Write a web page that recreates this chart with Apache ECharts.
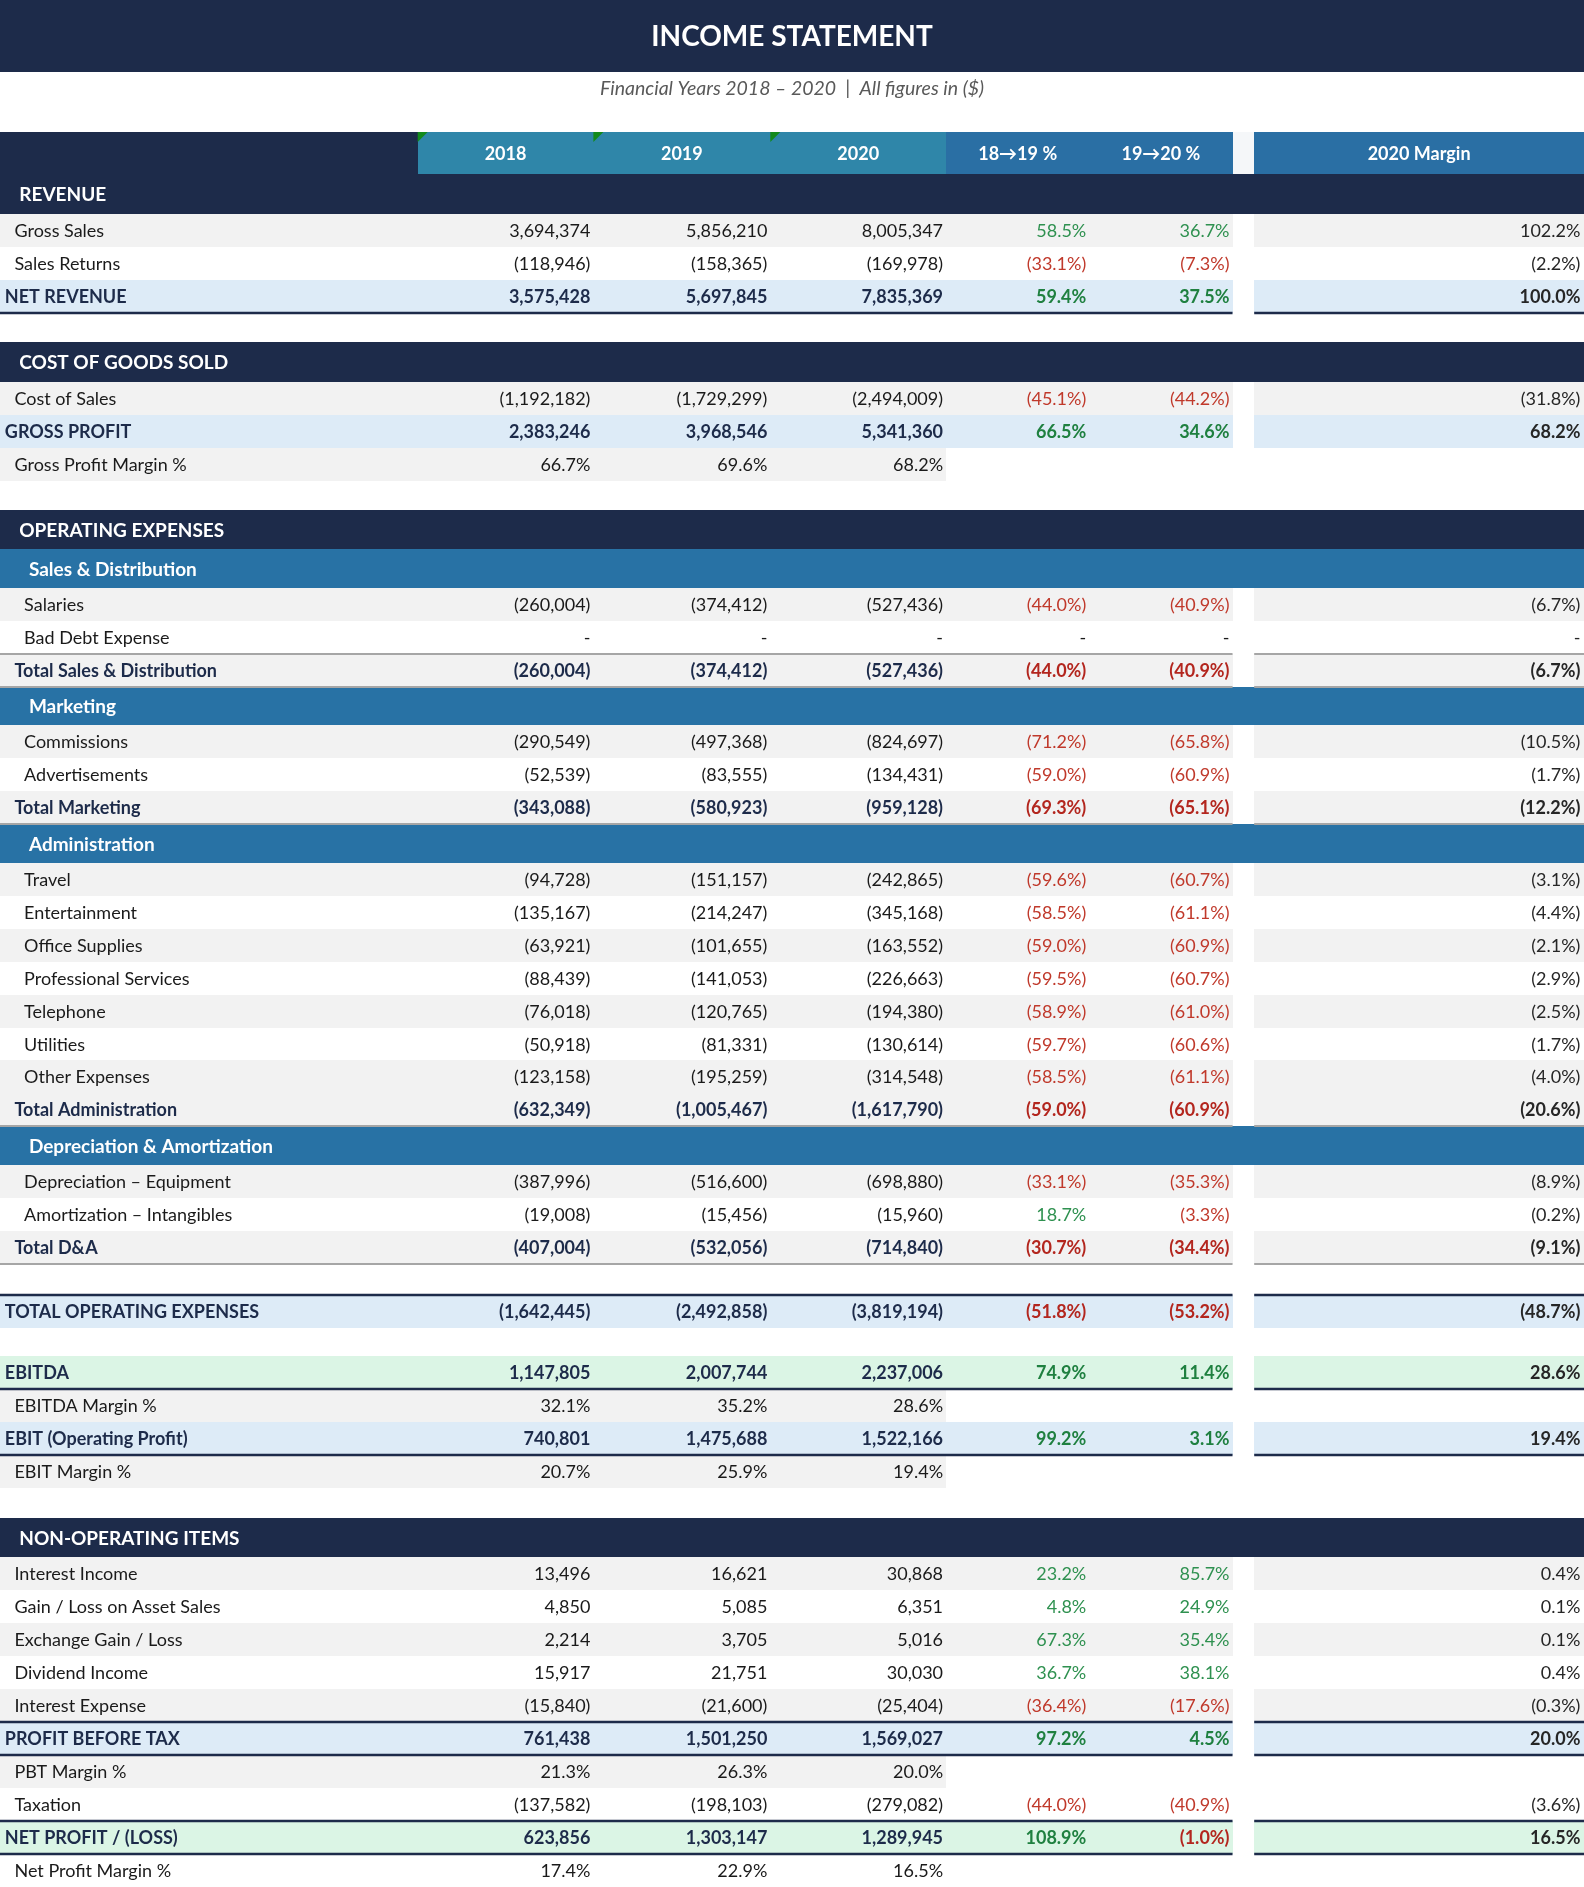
<!DOCTYPE html>
<html>
<head>
<meta charset="utf-8">
<title>Income Statement</title>
<script src="https://cdn.jsdelivr.net/npm/echarts@6/dist/echarts.min.js"></script>
<style>
  html, body { margin: 0; padding: 0; background: #ffffff; }
  #chart { width: 1584px; height: 1887px; }
</style>
</head>
<body>
<div id="chart"></div>
<script>
// ---- data ----
var titleText = 'INCOME STATEMENT';
var subtitleText = 'Financial Years 2018 \u2013 2020  |  All figures in ($)';
var columnTitles = ['2018', '2019', '2020', '18\u219219 %', '19\u219220 %', '2020 Margin'];

var rowLabels = [
  'REVENUE', 'Gross Sales', 'Sales Returns', 'NET REVENUE', '',
  'COST OF GOODS SOLD', 'Cost of Sales', 'GROSS PROFIT', 'Gross Profit Margin %', '',
  'OPERATING EXPENSES', 'Sales & Distribution', 'Salaries', 'Bad Debt Expense', 'Total Sales & Distribution',
  'Marketing', 'Commissions', 'Advertisements', 'Total Marketing',
  'Administration', 'Travel', 'Entertainment', 'Office Supplies', 'Professional Services',
  'Telephone', 'Utilities', 'Other Expenses', 'Total Administration',
  'Depreciation & Amortization', 'Depreciation \u2013 Equipment', 'Amortization \u2013 Intangibles', 'Total D&A', '',
  'TOTAL OPERATING EXPENSES', '',
  'EBITDA', 'EBITDA Margin %', 'EBIT (Operating Profit)', 'EBIT Margin %', '',
  'NON-OPERATING ITEMS', 'Interest Income', 'Gain / Loss on Asset Sales', 'Exchange Gain / Loss',
  'Dividend Income', 'Interest Expense', 'PROFIT BEFORE TAX', 'PBT Margin %', 'Taxation',
  'NET PROFIT / (LOSS)', 'Net Profit Margin %'
];

var v2018 = [
  null, 3694374, -118946, 3575428, null,
  null, -1192182, 2383246, 66.7, null,
  null, null, -260004, 0, -260004,
  null, -290549, -52539, -343088,
  null, -94728, -135167, -63921, -88439,
  -76018, -50918, -123158, -632349,
  null, -387996, -19008, -407004, null,
  -1642445, null,
  1147805, 32.1, 740801, 20.7, null,
  null, 13496, 4850, 2214,
  15917, -15840, 761438, 21.3, -137582,
  623856, 17.4
];
var v2019 = [
  null, 5856210, -158365, 5697845, null,
  null, -1729299, 3968546, 69.6, null,
  null, null, -374412, 0, -374412,
  null, -497368, -83555, -580923,
  null, -151157, -214247, -101655, -141053,
  -120765, -81331, -195259, -1005467,
  null, -516600, -15456, -532056, null,
  -2492858, null,
  2007744, 35.2, 1475688, 25.9, null,
  null, 16621, 5085, 3705,
  21751, -21600, 1501250, 26.3, -198103,
  1303147, 22.9
];
var v2020 = [
  null, 8005347, -169978, 7835369, null,
  null, -2494009, 5341360, 68.2, null,
  null, null, -527436, 0, -527436,
  null, -824697, -134431, -959128,
  null, -242865, -345168, -163552, -226663,
  -194380, -130614, -314548, -1617790,
  null, -698880, -15960, -714840, null,
  -3819194, null,
  2237006, 28.6, 1522166, 19.4, null,
  null, 30868, 6351, 5016,
  30030, -25404, 1569027, 20.0, -279082,
  1289945, 16.5
];
var chg1819 = [
  null, 58.5, -33.1, 59.4, null,
  null, -45.1, 66.5, null, null,
  null, null, -44.0, 0, -44.0,
  null, -71.2, -59.0, -69.3,
  null, -59.6, -58.5, -59.0, -59.5,
  -58.9, -59.7, -58.5, -59.0,
  null, -33.1, 18.7, -30.7, null,
  -51.8, null,
  74.9, null, 99.2, null, null,
  null, 23.2, 4.8, 67.3,
  36.7, -36.4, 97.2, null, -44.0,
  108.9, null
];
var chg1920 = [
  null, 36.7, -7.3, 37.5, null,
  null, -44.2, 34.6, null, null,
  null, null, -40.9, 0, -40.9,
  null, -65.8, -60.9, -65.1,
  null, -60.7, -61.1, -60.9, -60.7,
  -61.0, -60.6, -61.1, -60.9,
  null, -35.3, -3.3, -34.4, null,
  -53.2, null,
  11.4, null, 3.1, null, null,
  null, 85.7, 24.9, 35.4,
  38.1, -17.6, 4.5, null, -40.9,
  -1.0, null
];
var margin2020 = [
  null, 102.2, -2.2, 100.0, null,
  null, -31.8, 68.2, null, null,
  null, null, -6.7, 0, -6.7,
  null, -10.5, -1.7, -12.2,
  null, -3.1, -4.4, -2.1, -2.9,
  -2.5, -1.7, -4.0, -20.6,
  null, -8.9, -0.2, -9.1, null,
  -48.7, null,
  28.6, null, 19.4, null, null,
  null, 0.4, 0.1, 0.1,
  0.4, -0.3, 20.0, null, -3.6,
  16.5, null
];

// ---- layout (sheet units, the sheet is 1316 x 1568) ----
// k: row kind, f: fill (g grey, w white, b blue, n green), ln: navy/grey rules, ind: label indent, h: gap height
var rowStyle = [
  {k: 'section'}, {k: 'item', f: 'g', ind: 12}, {k: 'item', f: 'w', ind: 12}, {k: 'key', f: 'b', ln: 'b'}, {k: 'gap', h: 24},
  {k: 'section'}, {k: 'item', f: 'g', ind: 12}, {k: 'key', f: 'b'}, {k: 'ratio', f: 'g'}, {k: 'gap', h: 24},
  {k: 'section'}, {k: 'sub'}, {k: 'item', f: 'g', ind: 20}, {k: 'item', f: 'w', ind: 20}, {k: 'total', ln: 'tb'},
  {k: 'sub'}, {k: 'item', f: 'g', ind: 20}, {k: 'item', f: 'w', ind: 20}, {k: 'total', ln: 'b'},
  {k: 'sub'}, {k: 'item', f: 'g', ind: 20}, {k: 'item', f: 'w', ind: 20}, {k: 'item', f: 'g', ind: 20}, {k: 'item', f: 'w', ind: 20},
  {k: 'item', f: 'g', ind: 20}, {k: 'item', f: 'w', ind: 20}, {k: 'item', f: 'g', ind: 20}, {k: 'total', ln: 'b'},
  {k: 'sub'}, {k: 'item', f: 'g', ind: 20}, {k: 'item', f: 'w', ind: 20}, {k: 'total', ln: 'b'}, {k: 'gap', h: 25.5},
  {k: 'key', f: 'b', ln: 't'}, {k: 'gap', h: 24},
  {k: 'key', f: 'n', ln: 'b'}, {k: 'ratio', f: 'g'}, {k: 'key', f: 'b', ln: 'b'}, {k: 'ratio', f: 'g'}, {k: 'gap', h: 24.5},
  {k: 'section'}, {k: 'item', f: 'g', ind: 12}, {k: 'item', f: 'w', ind: 12}, {k: 'item', f: 'g', ind: 12},
  {k: 'item', f: 'w', ind: 12}, {k: 'item', f: 'g', ind: 12}, {k: 'key', f: 'b', ln: 'tb'}, {k: 'ratio', f: 'g'}, {k: 'item', f: 'w', ind: 12},
  {k: 'key', f: 'n', ln: 'tb'}, {k: 'ratio', f: 'w'}
];

var SHEET_W = 1316;
var SHEET_H = 1568;
var colEdges = [0, 347, 493, 640, 786, 905, 1024, 1042, 1316];
var valueRight = [493, 640, 786, 905, 1024, 1316];
var heights = {title: 60, subtitle: 26, space: 24, head: 35, section: 33, sub: 32, item: 27.4, key: 27.4, total: 27.4, ratio: 27.4};

var FONT = 'Lato, "Open Sans", "DejaVu Sans", sans-serif';
var NAVY = '#1d2b4a';
var SUB_BLUE = '#2872a5';
var HEAD_TEAL = '#2f86a9';
var HEAD_BLUE = '#2a6fa4';
var FILLS = {g: '#f2f2f2', w: null, b: '#ddebf7', n: '#dbf5e5'};
var GREEN = '#2f9150', RED = '#c0392b', INK = '#1a1a1a';

// all rows: title block + table rows, with y extents stacked from the heights
var rows = [{k: 'title'}, {k: 'subtitle'}, {k: 'space'}, {k: 'head'}];
rowStyle.forEach(function (s, i) {
  rows.push({k: s.k, f: s.f, ln: s.ln || '', ind: s.ind, h: s.h, idx: i});
});
var seriesData = [];
var cursor = 0;
rows.forEach(function (r, i) {
  var h = r.k === 'gap' ? r.h : heights[r.k];
  seriesData.push([i, cursor, cursor + h]);
  cursor += h;
});

function fmtNum(v) {
  if (v === 0) { return '-'; }
  var s = Math.abs(v).toLocaleString('en-US');
  return v < 0 ? '(' + s + ')' : s;
}
function fmtPct(v) {
  if (v === 0) { return '-'; }
  var s = Math.abs(v).toFixed(1) + '%';
  return v < 0 ? '(' + s + ')' : s;
}

function renderRow(params, api) {
  var r = rows[params.dataIndex];
  var y0 = api.value(1), y1 = api.value(2);
  var top = Math.round(api.coord([0, y0])[1]);
  var bot = Math.round(api.coord([0, y1])[1]);
  var mid = (top + bot) / 2 + 1;
  var els = [];
  function X(x) { return api.coord([x, y0])[0]; }
  function box(xa, xb, color) {
    els.push({type: 'rect', shape: {x: Math.round(X(xa)), y: top, width: Math.round(X(xb)) - Math.round(X(xa)), height: bot - top},
      style: {fill: color}});
  }
  function rule(y, color, w) {
    [[0, 1024], [1042, 1316]].forEach(function (s) {
      els.push({type: 'line', z2: 10, shape: {x1: X(s[0]), y1: y, x2: X(s[1]), y2: y},
        style: {stroke: color, lineWidth: w}});
    });
  }
  function label(str, x, align, color, weight, size, style) {
    els.push({type: 'text', z2: 20, style: {
      text: str, x: X(x), y: mid,
      align: align, verticalAlign: 'middle', textAlign: align, textVerticalAlign: 'middle',
      fill: color, fontFamily: FONT, fontSize: size || 18, fontWeight: weight || 'normal', fontStyle: style || 'normal'
    }});
  }

  if (r.k === 'title') {
    box(0, SHEET_W, NAVY);
    label(titleText, SHEET_W / 2, 'center', '#ffffff', 'bold', 28);
    return {type: 'group', children: els};
  }
  if (r.k === 'subtitle') {
    label(subtitleText, SHEET_W / 2, 'center', '#595959', 'normal', 19.5, 'italic');
    return {type: 'group', children: els};
  }
  if (r.k === 'head') {
    box(0, 347, NAVY);
    box(347, 786, HEAD_TEAL);
    box(786, 1024, HEAD_BLUE);
    box(1024, 1042, '#f5f7f9');
    box(1042, 1316, HEAD_BLUE);
    // little green corner flags on the year cells
    [347, 493, 640].forEach(function (e) {
      var x = X(e);
      els.push({type: 'polygon', z2: 5, shape: {points: [[x, top], [x + 10, top], [x, top + 10]]}, style: {fill: '#138a1c'}});
    });
    columnTitles.forEach(function (t, c) {
      var a = c < 5 ? colEdges[c + 1] : colEdges[7];
      var b = c < 5 ? colEdges[c + 2] : colEdges[8];
      label(t, (a + b) / 2, 'center', '#ffffff', 'bold', 18);
    });
    return {type: 'group', children: els};
  }
  if (r.k === 'space' || r.k === 'gap') {
    return {type: 'group', children: els};
  }

  var i = r.idx;
  if (r.k === 'section') {
    box(0, SHEET_W, NAVY);
    label(rowLabels[i], 16, 'left', '#ffffff', 'bold', 19);
    return {type: 'group', children: els};
  }
  if (r.k === 'sub') {
    box(0, SHEET_W, SUB_BLUE);
    label(rowLabels[i], 24, 'left', '#ffffff', 'bold', 19);
    return {type: 'group', children: els};
  }

  var bold = r.k === 'key' || r.k === 'total';
  var fill = r.k === 'total' ? FILLS.g : FILLS[r.f];
  if (fill) {
    if (r.k === 'ratio') {
      box(0, 786, fill);
    } else {
      box(0, 1024, fill);
      box(1042, 1316, fill);
    }
  }
  var lineColor = r.k === 'total' ? '#a6a6a6' : NAVY;
  var lineW = r.k === 'total' ? 2 : 2.5;
  if (r.ln.indexOf('t') >= 0) { rule(top, lineColor, lineW); }
  if (r.ln.indexOf('b') >= 0) { rule(bot, lineColor, lineW); }

  var weight = bold ? 'bold' : 'normal';
  var ink = bold ? NAVY : INK;
  label(rowLabels[i], r.k === 'key' ? 4 : r.ind || 12, 'left', ink, weight);

  var years = [v2018[i], v2019[i], v2020[i]];
  years.forEach(function (v, c) {
    if (v === null) { return; }
    label(r.k === 'ratio' ? fmtPct(v) : fmtNum(v), valueRight[c] - 2.5, 'right', ink, weight);
  });
  [chg1819[i], chg1920[i]].forEach(function (v, c) {
    if (v === null) { return; }
    var color = v > 0 ? GREEN : (v < 0 ? RED : INK);
    if (bold) { color = v > 0 ? '#1f8040' : (v < 0 ? '#b3261e' : INK); }
    label(fmtPct(v), valueRight[c + 3] - 2.5, 'right', color, weight);
  });
  if (margin2020[i] !== null) {
    label(fmtPct(margin2020[i]), valueRight[5] - 3, 'right', '#262626', weight);
  }
  return {type: 'group', children: els};
}

var chart = echarts.init(document.getElementById('chart'));
var option = {
  backgroundColor: '#ffffff',
  animation: false,
  grid: {left: 0, right: 0, top: 0, bottom: 0},
  xAxis: {type: 'value', min: 0, max: SHEET_W, show: false},
  yAxis: {type: 'value', min: 0, max: SHEET_H, inverse: true, show: false},
  series: [
    {
      type: 'custom',
      name: 'Income statement',
      renderItem: renderRow,
      clip: false,
      encode: {x: 0, y: [1, 2]},
      data: seriesData
    }
  ]
};
chart.setOption(option);
</script>
</body>
</html>
